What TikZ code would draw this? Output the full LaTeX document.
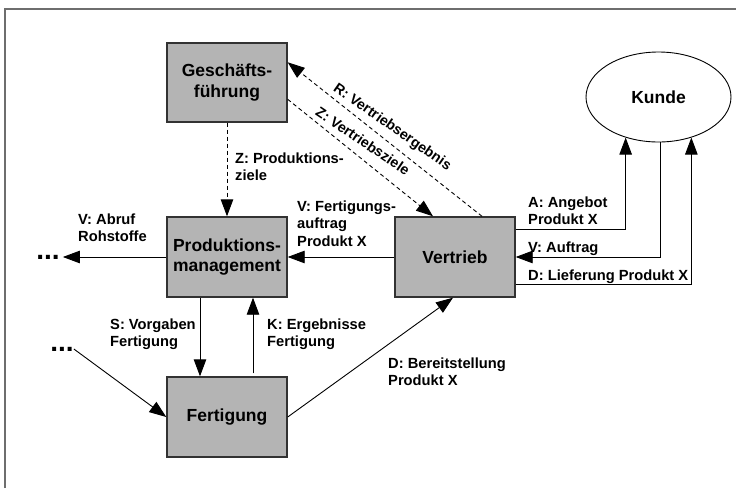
\documentclass[tikz,border=0pt]{standalone}
\usepackage{fontspec}
\setmainfont{Liberation Sans}
\usetikzlibrary{arrows.meta,shapes.geometric}
\definecolor{boxfill}{RGB}{180,180,180}
\definecolor{boxline}{RGB}{50,50,50}
\definecolor{framegray}{RGB}{110,110,110}
\begin{document}
\begin{tikzpicture}[x=1pt,y=-1pt,
  box/.style={draw=boxline, line width=1.4pt, fill=boxfill, minimum width=120pt,
    minimum height=80pt, inner sep=0pt, align=center,
    font=\fontsize{17.5}{20.5}\selectfont\bfseries},
  lbl/.style={inner sep=0pt, anchor=north west, align=left,
    font=\fontsize{14.7}{17.5}\selectfont\bfseries},
  slbl/.style={inner sep=0pt, anchor=base, font=\fontsize{14.3}{17}\selectfont\bfseries},
  arr/.style={line width=0.9pt, -{Triangle[length=17pt,width=12.5pt]}},
  darr/.style={arr, dash pattern=on 4pt off 3pt},
  dots/.style={font=\fontsize{28}{28}\selectfont\bfseries, inner sep=0pt}]

\useasboundingbox (0,0) rectangle (736,488);

% frame lines (top and left only)
\draw[framegray, line width=2pt] (5,488) -- (5,8.5) -- (736,8.5);

% units
\node[box, minimum height=79pt] (gf) at (227,82.5) {Geschäfts-\\führung};
\node[box] (pm) at (227,257) {Produktions-\\management};
\node[box] (vt) at (455,257) {Vertrieb};
\node[box] (fe) at (227,417) {Fertigung};
\node[ellipse, draw, line width=0.9pt, fill=white, minimum width=145pt,
  minimum height=90pt, inner sep=0pt,
  font=\fontsize{17.5}{20.5}\selectfont\bfseries] (ku) at (658.5,97) {Kunde};

% open ends
\node[dots] (d1) at (48,257) {...};
\node[dots] (d2) at (62,349) {...};

% management flows (dashed)
\draw[darr] (gf.south) -- (pm.north);
\draw[darr] ([xshift=27pt]vt.north) -- ([yshift=-20pt]gf.north east);
\draw[darr] ([yshift=-57pt]gf.north east) -- ([xshift=-22pt]vt.north);
\node[slbl, rotate=-35] (lr) at (390,130.5) {R: Vertriebsergebnis};
\node[slbl, rotate=-34] (lz) at (360,145) {Z: Vertriebsziele};

% material and order flows
\draw[arr] (vt.west) -- (pm.east);
\draw[arr] (pm.west) -- ([xshift=3pt]d1.east);
\draw[arr] ([xshift=-27pt]pm.south) -- ([xshift=-27pt]fe.north);
\draw[arr] ([xshift=26pt,yshift=3pt]fe.north) -- ([xshift=26pt]pm.south);
\draw[arr] (d2.east) -- (fe.west);
\draw[arr] (fe.east) -- ([xshift=-2pt]vt.south);
\draw[arr] ([yshift=-13pt]vt.north east) -| (ku.-129);
\draw[arr] ([xshift=1.5pt]ku.south) |- (vt.east);
\draw[arr] ([yshift=13pt]vt.south east) -| (ku.-51);

% flow labels
\node[lbl] (l1) at (235,152.5) {Z: Produktions-\\ziele};
\node[lbl] (l2) at (78,213.5) {V: Abruf\\Rohstoffe};
\node[lbl] (l3) at (297,200.5) {V: Fertigungs-\\auftrag\\Produkt X};
\node[lbl] (l4) at (528,196.5) {A: Angebot\\Produkt X};
\node[lbl] (l5) at (528,241.5) {V: Auftrag};
\node[lbl] (l6) at (528,269.5) {D: Lieferung Produkt X};
\node[lbl] (l7) at (110,318.5) {S: Vorgaben\\Fertigung};
\node[lbl] (l8) at (267,318.5) {K: Ergebnisse\\Fertigung};
\node[lbl] (l9) at (388,357.5) {D: Bereitstellung\\Produkt X};
\end{tikzpicture}
\end{document}
